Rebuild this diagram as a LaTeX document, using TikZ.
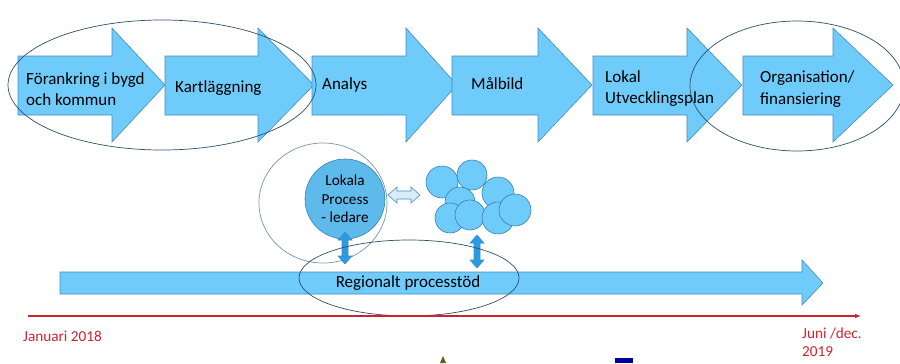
\documentclass[tikz,border=0pt]{standalone}
\usepackage{fontspec}
\setmainfont{Carlito}
\usetikzlibrary{arrows.meta}
\definecolor{afill}{RGB}{110,203,250}
\definecolor{aline}{RGB}{70,140,190}
\definecolor{cfill}{RGB}{95,186,236}
\definecolor{cline}{RGB}{55,125,175}
\definecolor{eline}{RGB}{45,80,110}
\definecolor{eline2}{RGB}{120,150,170}
\definecolor{dfill}{RGB}{40,155,225}
\definecolor{hfill}{RGB}{215,238,250}
\definecolor{tred}{RGB}{205,35,45}
\tikzset{
  arrowshape/.style={fill=afill,draw=aline,line width=0.5pt},
  ringe/.style={draw=eline,line width=0.6pt},
  ringl/.style={draw=eline2,line width=0.6pt},
  bubble/.style={circle,fill=afill,draw=cline,line width=0.5pt},
  steplabel/.style={font=\fontsize{14.5}{18.5}\selectfont,align=left,anchor=west,inner sep=0pt},
  datelabel/.style={font=\fontsize{13}{15.5}\selectfont,text=tred,align=left,anchor=west,inner sep=0pt},
}
\newcommand\toparrow[3]{\draw[arrowshape] (#1,56) -- (#2,56) -- (#2,28) -- (#3,85) -- (#2,142) -- (#2,115) -- (#1,115) -- cycle;}
\newcommand\vdarrow[3]{\draw[fill=dfill,draw=aline,line width=0.5pt] (#1-3,#2+8) -- (#1-7,#2+8) -- (#1,#2) -- (#1+7,#2+8) -- (#1+3,#2+8) -- (#1+3,#3-8) -- (#1+7,#3-8) -- (#1,#3) -- (#1-7,#3-8) -- (#1-3,#3-8) -- cycle;}
\begin{document}
\begin{tikzpicture}[x=0.03cm,y=-0.03cm]
\useasboundingbox (0,0) rectangle (900,363);
% top process arrows
\toparrow{18}{112}{165}
\toparrow{165}{258}{314}
\toparrow{312}{406}{457}
\toparrow{452}{538}{592}
\toparrow{593}{687}{742}
\toparrow{743}{833}{893}
\node[steplabel] (s1) at (26,89) {Förankring i bygd\\och kommun};
\node[steplabel] (s2) at (175,88) {Kartläggning};
\node[steplabel] (s3) at (322,85) {Analys};
\node[steplabel] (s4) at (471,84) {Målbild};
\node[steplabel] (s5) at (605,88.5) {Lokal\\Utvecklingsplan};
\node[steplabel] (s6) at (760,89) {Organisation/\\finansiering};
% ellipses around steps
\draw[ringe] (162,85) ellipse [x radius=154, y radius=65];
\draw[ringe] (797,86) ellipse [x radius=107, y radius=65];
% bottom long arrow
\draw[arrowshape] (60,272) -- (802,272) -- (802,260) -- (823,283) -- (802,305) -- (802,294) -- (60,294) -- cycle;
\node[font=\fontsize{14.5}{18}\selectfont,inner sep=0pt] (reg) at (408,283) {Regionalt processtöd};
% local leader circle
\node[circle,fill=cfill,draw=cline,line width=0.5pt,minimum size=80*0.03cm,inner sep=0pt,
      font=\fontsize{13}{16}\selectfont,align=center] (lead) at (345,199) {Lokala\\Process\\- ledare};
\draw[ringl] (323,203) ellipse [x radius=64, y radius=60];
% horizontal hollow double arrow
\draw[fill=hfill,draw=aline,line width=0.5pt] (388,195) -- (397,187) -- (397,191) -- (411,191) -- (411,187) -- (420,195) -- (411,203) -- (411,199) -- (397,199) -- (397,203) -- cycle;
% cluster of circles
\foreach \cx/\cy/\r [count=\i] in {442/182/16, 472/175/15, 498/193/16, 460/202/15, 450/218/15, 470/215/15, 498/218/16, 515/210/16}
  \node[bubble,minimum size=2*\r*0.03cm,inner sep=0pt] (b\i) at (\cx,\cy) {};
% vertical double arrows
\vdarrow{345}{232}{264}
\vdarrow{477}{235}{268}
% regional ellipse
\draw[ringe] (409,278) ellipse [x radius=110, y radius=38];
% timeline
\draw[tred,line width=0.9pt,-{Latex[length=5pt,width=4pt]}] (28,316) -- (861,316);
\node[datelabel] (d1) at (23,336) {Januari 2018};
\node[datelabel,anchor=north west] (d2) at (802,328) {Juni /dec.\\2019};
% logo fragments at the bottom edge
\fill[olive!60!black] (440,363) -- (443,356) -- (446,363) -- cycle;
\fill[blue!60!black] (615,358) rectangle (633,363);
\end{tikzpicture}
\end{document}
